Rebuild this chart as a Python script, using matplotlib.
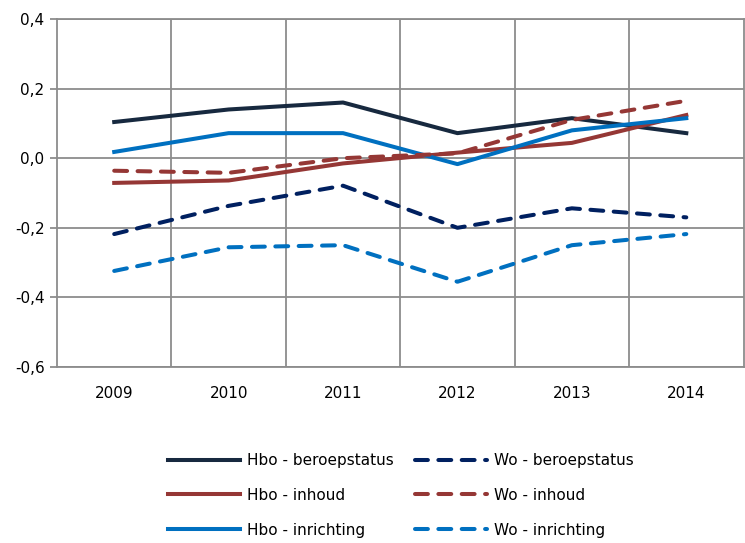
import numpy as np
import matplotlib.pyplot as plt
from matplotlib.ticker import FuncFormatter

years = ['2009', '2010', '2011', '2012', '2013', '2014']

hbo_beroepstatus = [0.104, 0.140, 0.160, 0.072, 0.115, 0.072]
hbo_inhoud = [-0.071, -0.064, -0.015, 0.016, 0.044, 0.124]
hbo_inrichting = [0.018, 0.072, 0.072, -0.017, 0.080, 0.115]
wo_beroepstatus = [-0.218, -0.137, -0.079, -0.200, -0.144, -0.170]
wo_inhoud = [-0.036, -0.042, 0.000, 0.014, 0.110, 0.165]
wo_inrichting = [-0.324, -0.256, -0.250, -0.355, -0.250, -0.218]

plt.rcParams['font.family'] = ['DejaVu Sans']
plt.rcParams['axes.unicode_minus'] = False

fig = plt.figure(figsize=(7.45, 5.43), dpi=100)
ax = fig.add_axes([57/745, 1 - 367/543, 1 - 57/745 - 0.002, (367 - 19)/543])

x = np.arange(len(years))
lw = 2.9
dash = dict(linestyle=(0, (3.2, 2.6)), dash_capstyle='round')

ax.plot(x, hbo_beroepstatus, color='#17293f', lw=lw, label='Hbo - beroepstatus')
ax.plot(x, hbo_inhoud, color='#953735', lw=lw, label='Hbo - inhoud')
ax.plot(x, hbo_inrichting, color='#0070c0', lw=lw, label='Hbo - inrichting')
ax.plot(x, wo_beroepstatus, color='#002060', lw=lw, label='Wo - beroepstatus', **dash)
ax.plot(x, wo_inhoud, color='#953735', lw=lw, label='Wo - inhoud', **dash)
ax.plot(x, wo_inrichting, color='#0070c0', lw=lw, label='Wo - inrichting', **dash)

ax.set_xlim(-0.5, len(years) - 0.5)
ax.set_ylim(-0.6, 0.4)
ax.set_xticks(x)
ax.set_xticklabels(years)
ax.set_xticks(x[:-1] + 0.5, minor=True)
ax.set_yticks(np.arange(-0.6, 0.41, 0.2))
ax.yaxis.set_major_formatter(FuncFormatter(lambda v, p: f'{v:.1f}'.replace('.', ',').replace('-0,0', '0,0')))

grid_c = '#8c8c8c'
ax.grid(axis='y', which='major', color=grid_c, lw=1.3)
ax.grid(axis='x', which='minor', color=grid_c, lw=1.3)
ax.set_axisbelow(True)
for s in ax.spines.values():
    s.set_color(grid_c)
    s.set_linewidth(1.3)

ax.tick_params(axis='x', which='both', length=0, labelsize=11, pad=14)
ax.tick_params(axis='y', length=5, color=grid_c, width=1.3, labelsize=11, pad=4)

fig.legend(loc='center', bbox_to_anchor=(0.538, 0.088), ncol=2, frameon=False,
           fontsize=11, handlelength=4.7, handletextpad=0.45, columnspacing=1.4,
           labelspacing=1.3)

fig.savefig('out.png', dpi=100)
